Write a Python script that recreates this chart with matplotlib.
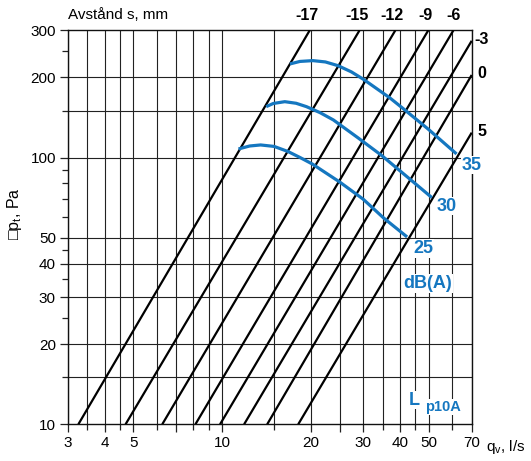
import matplotlib
matplotlib.use('Agg')
import matplotlib.pyplot as plt

plt.rcParams['font.family'] = ['Liberation Sans', 'DejaVu Sans']
plt.rcParams['mathtext.fontset'] = 'custom'
plt.rcParams['mathtext.rm'] = 'Liberation Sans'
plt.rcParams['mathtext.it'] = 'Liberation Sans'

# ---------------- data ----------------
distance_labels = ['-17', '-15', '-12', '-9', '-6', '-3', '0', '5']
line_q_start = [3.26, 4.71, 6.27, 8.12, 9.84, 11.87, 14.21, 18.1]
line_p_start = [10, 10, 10, 10, 10, 10, 10, 10]
line_q_end = [19.8, 29.2, 38.6, 49.9, 60.7, 70, 70, 70]
line_p_end = [300, 300, 300, 300, 300, 274, 204, 124]

level_labels = ['25', '30', '35']
q25 = [11.36, 12.39, 13.5, 15.0, 16.7, 18.34, 20.2, 25.0, 30.0, 35.2, 42.3]
p25 = [107.7, 110.5, 111.5, 110.1, 105.4, 100.1, 94.6, 81.0, 69.9, 59.4, 50.4]
q30 = [14.1, 14.9, 16.3, 17.8, 19.3, 21.45, 23.8, 28.9, 34.7, 43.3, 51.3]
p30 = [155.2, 159.5, 162.0, 159.8, 155.2, 147.4, 138.4, 118.4, 101.8, 82.9, 70.8]
q35 = [16.97, 18.34, 20.3, 22.37, 24.7, 27.4, 30.1, 37.0, 41.0, 49.8, 59.0, 62.2]
p35 = [224.4, 229.3, 230.9, 228.3, 221.0, 209.5, 196.5, 167.3, 152.7, 128.0, 108.6, 103.2]

x_major = [3, 4, 5, 7, 10, 20, 25, 30, 40, 50, 70]
x_major_labels = ['3', '4', '5', '', '10', '20', '', '30', '40', '50', '70']
x_minor = [3.5, 4.5, 6, 8, 9, 15, 35, 45, 60]
y_major = [10, 20, 30, 40, 50, 100, 200, 300]
y_major_labels = ['10', '20', '30', '40', '50', '100', '200', '300']
y_minor = [15, 25, 35, 45, 60, 70, 80, 90, 150, 250]
y_grid = [15, 20, 30, 40, 50, 100, 150, 200]

BLUE = '#1577c0'
W, H = 531, 461

fig = plt.figure(figsize=(W / 100, H / 100), dpi=100)
ax = fig.add_axes([67.7 / W, 1 - 424.3 / H, (471.7 - 67.7) / W, (424.3 - 30.3) / H])
ax.set_xscale('log')
ax.set_yscale('log')
ax.set_xlim(3, 70)
ax.set_ylim(10, 300)

# grid
for xv in x_major + x_minor:
    ax.axvline(xv, color='#222222', lw=0.8, zorder=1)
for yv in y_grid:
    ax.axhline(yv, color='#222222', lw=0.8, zorder=1)

# ticks
ax.set_xticks(x_major)
ax.set_xticklabels(x_major_labels)
ax.set_xticks(x_minor, minor=True)
ax.set_xticklabels([], minor=True)
ax.set_yticks(y_major)
ax.set_yticklabels(y_major_labels)
ax.set_yticks(y_minor, minor=True)
ax.set_yticklabels([], minor=True)
ax.tick_params(axis='both', which='major', direction='out', length=6, width=0.9,
               labelsize=11, pad=2.5, color='#222222')
ax.tick_params(axis='both', which='minor', direction='out', length=4, width=0.9,
               color='#222222')
for s in ax.spines.values():
    s.set_linewidth(1.0)
    s.set_color('#111111')

# black distance lines
for qs, ps, qe, pe in zip(line_q_start, line_p_start, line_q_end, line_p_end):
    ax.plot([qs, qe], [ps, pe], color='black', lw=1.6, zorder=3, solid_capstyle='butt')

# blue sound level curves
for qq, pp in [(q25, p25), (q30, p30), (q35, p35)]:
    ax.plot(qq, pp, color=BLUE, lw=2.3, zorder=4, solid_capstyle='butt',
            solid_joinstyle='round')

def ftxt(px, py, s, **kw):
    fig.text(px / W, 1 - py / H, s, **kw)

# top / right distance labels
ftxt(68, 15, 'Avstånd s, mm', ha='left', va='center', fontsize=11)
top_x = [306.7, 357.3, 392.3, 425.7, 453.3]
for lab, px in zip(distance_labels[:5], top_x):
    ftxt(px, 15, lab, ha='center', va='center', fontsize=11.5, fontweight='bold')
right_y = [40, 73, 131]
right_x = [474.5, 477, 477]
for lab, px, py in zip(distance_labels[5:], right_x, right_y):
    ftxt(px, py, lab, ha='left', va='center', fontsize=11.5, fontweight='bold')

# blue labels
bb = dict(facecolor='white', edgecolor='none', pad=0.6)
ftxt(471.7, 165, level_labels[2], ha='center', va='center', fontsize=13,
     fontweight='bold', color=BLUE, bbox=bb)
ftxt(446.7, 206, level_labels[1], ha='center', va='center', fontsize=13,
     fontweight='bold', color=BLUE, bbox=bb)
ftxt(423.3, 248.3, level_labels[0], ha='center', va='center', fontsize=13,
     fontweight='bold', color=BLUE, bbox=bb)
ftxt(427.7, 283.3, 'dB(A)', ha='center', va='center', fontsize=13,
     fontweight='bold', color=BLUE, bbox=bb)
ftxt(409, 400, 'L', ha='left', va='center', fontsize=13,
     fontweight='bold', color=BLUE, bbox=bb)
ftxt(425, 407, 'p10A', ha='left', va='center', fontsize=10.5,
     fontweight='bold', color=BLUE, bbox=bb)

# axis titles
ftxt(486, 447, r'q$_\mathrm{v}$, l/s', ha='left', va='center', fontsize=11)
ftxt(14, 214, r'□p$_\mathrm{t}$, Pa', ha='center', va='center', fontsize=11.5,
     rotation=90)

fig.savefig('out.png', dpi=100)
